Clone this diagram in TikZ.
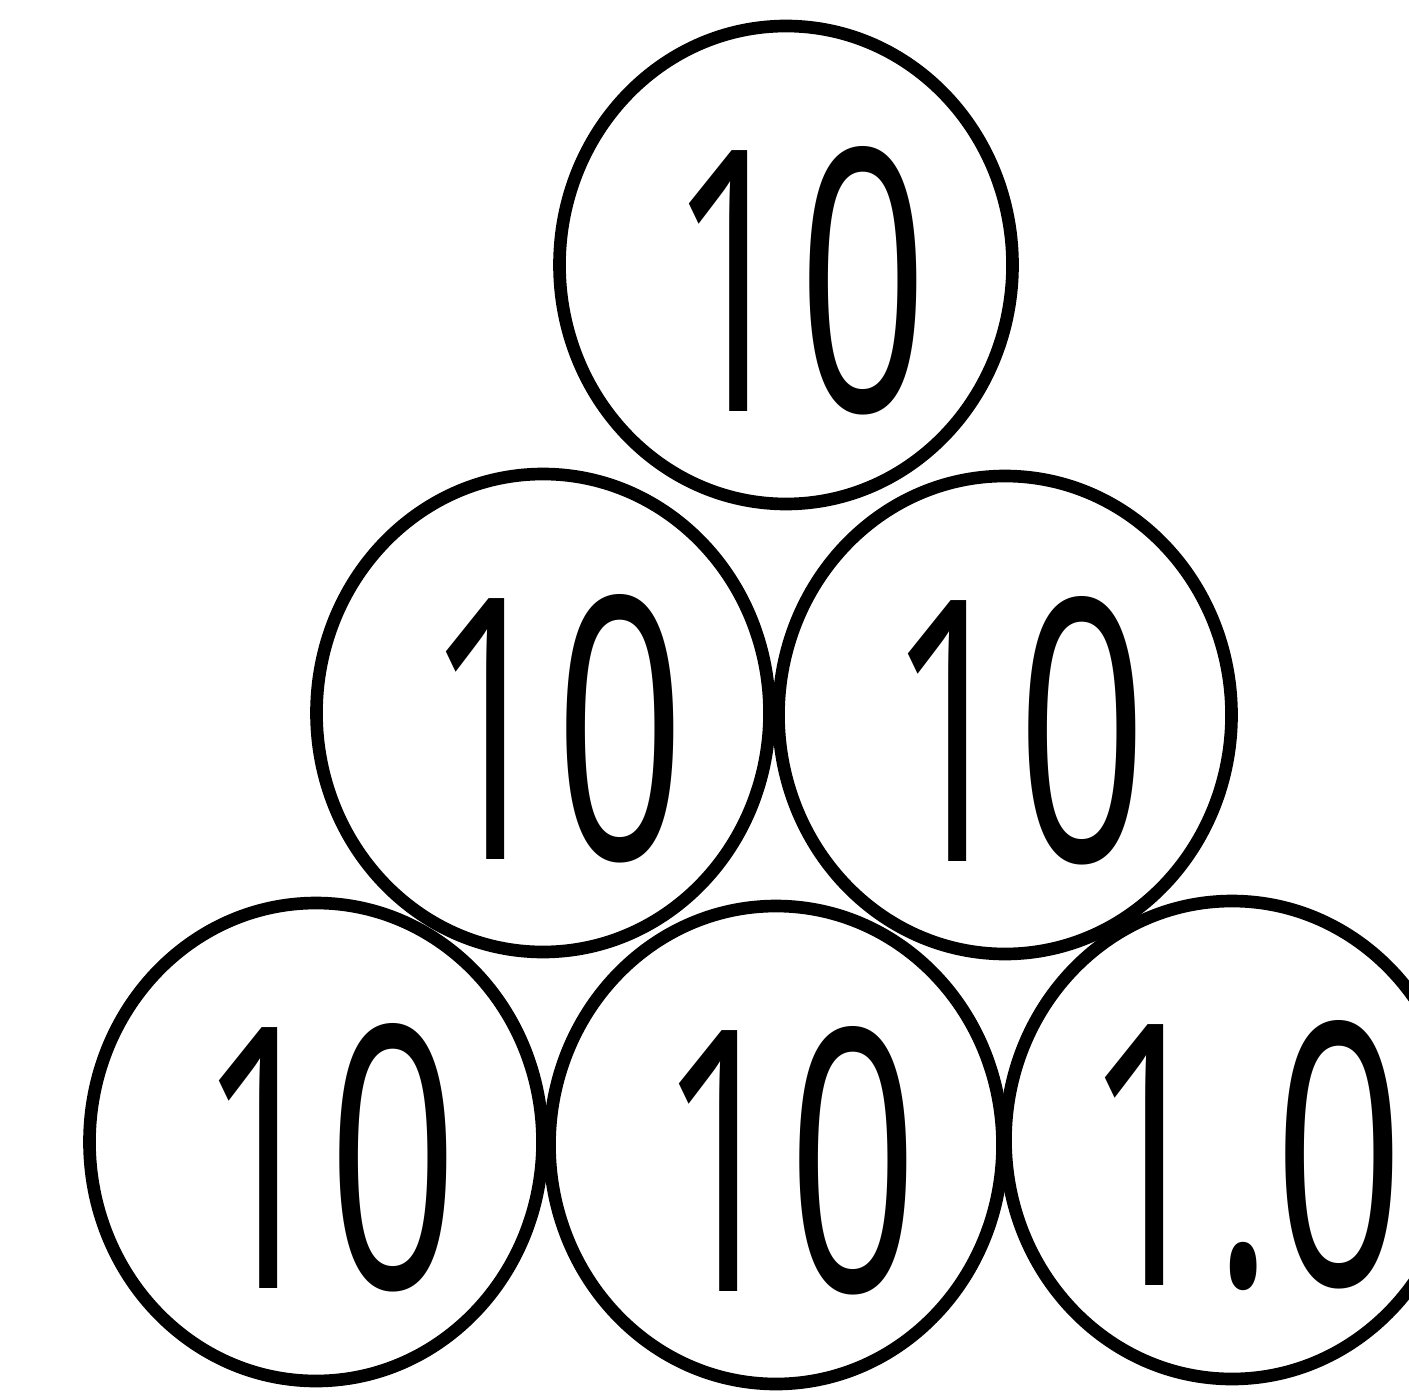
\documentclass[tikz,border=0pt]{standalone}
\usepackage{fontspec}
\newfontfamily\coinfont{Open Sans}
\usepackage{graphicx}
\usepackage{tikz}
\usetikzlibrary{shapes.geometric}
\newcommand{\coinval}[1]{\makebox[0pt]{\hspace*{2.4mm}\raisebox{-1.6mm}[\height][\depth]{\scalebox{0.62}[1]{#1}}}}

\begin{document}
\begin{tikzpicture}[
    coin/.style={ellipse, draw=black, fill=white, line width=3.6pt,
      minimum width=4.53cm, minimum height=4.78cm, inner sep=0pt,
      font=\coinfont\fontsize{104}{104}\selectfont}
  ]
    \clip (0,0) rectangle (14.09,13.99);
    % bottom row first, the rows above lie on top of it
    \node[coin] (b1) at (3.16, 2.57) {\coinval{10}};
    \node[coin] (b2) at (7.76, 2.54) {\coinval{10}};
    \node[coin] (b3) at (12.32, 2.59) {\coinval{1.0}};
    \node[coin] (m1) at (5.43, 6.86) {\coinval{10}};
    \node[coin] (m2) at (10.05, 6.84) {\coinval{10}};
    \node[coin] (t1) at (7.86, 11.34) {\coinval{10}};
  \end{tikzpicture}
\end{document}
